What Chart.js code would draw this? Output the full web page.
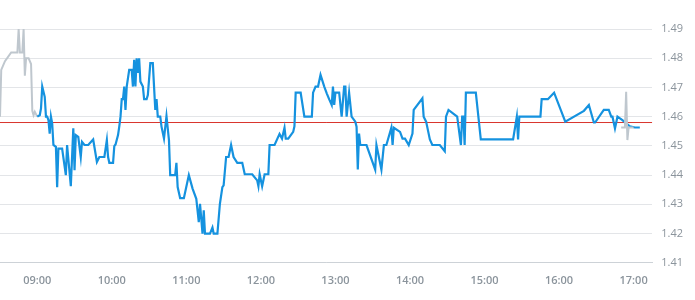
<!DOCTYPE html>
<html>
<head>
<meta charset="utf-8">
<script src="https://cdn.jsdelivr.net/npm/chart.js@4.4.1/dist/chart.umd.min.js"></script>
<style>
    html, body { margin: 0; padding: 0; background: #ffffff; }
    #wrap { width: 695px; height: 300px; position: relative; }
</style>
</head>
<body>
<div id="wrap"><canvas id="priceChart"></canvas></div>
<script>
// pre-market (grey)
const preTimes = ["08:30", "08:31", "08:34", "08:39", "08:44", "08:45", "08:46", "08:48", "08:49", "08:50", "08:51", "08:53", "08:55", "08:56", "08:57", "08:58", "09:00"];
const prePrices = [1.460, 1.476, 1.479, 1.482, 1.482, 1.490, 1.482, 1.482, 1.490, 1.474, 1.480, 1.480, 1.478, 1.462, 1.4605, 1.4617, 1.460];

// trading session (blue)
const sessionTimes = [
    "09:00", "09:02", "09:03", "09:04", "09:06", "09:07", "09:08", "09:09", "09:10", "09:11", "09:12", "09:13", "09:15", "09:16", "09:17", "09:20",
    "09:23", "09:24", "09:27", "09:29", "09:30", "09:31", "09:33", "09:35", "09:36", "09:38", "09:41", "09:45", "09:48", "09:50", "09:54", "09:56",
    "09:57", "09:58", "10:01", "10:02", "10:03", "10:05", "10:06", "10:07", "10:08", "10:09", "10:10", "10:11", "10:12", "10:14", "10:16", "10:17",
    "10:18", "10:19", "10:20", "10:21", "10:22", "10:23", "10:25", "10:26", "10:28", "10:29", "10:31", "10:33", "10:34", "10:35", "10:36", "10:37",
    "10:39", "10:40", "10:42", "10:44", "10:46", "10:47", "10:51", "10:52", "10:53", "10:55", "10:58", "11:02", "11:05", "11:08", "11:09", "11:10",
    "11:11", "11:13", "11:14", "11:15", "11:19", "11:21", "11:22", "11:25", "11:27", "11:29", "11:30", "11:32", "11:34", "11:36", "11:38", "11:41",
    "11:45", "11:47", "11:53", "11:57", "11:58", "11:59", "12:01", "12:03", "12:06", "12:07", "12:11", "12:15", "12:17", "12:19", "12:20", "12:22",
    "12:26", "12:27", "12:28", "12:32", "12:35", "12:41", "12:42", "12:44", "12:46", "12:48", "12:51", "12:53", "12:55", "12:57", "12:58", "12:59",
    "13:00", "13:03", "13:05", "13:07", "13:08", "13:09", "13:11", "13:13", "13:16", "13:17", "13:18", "13:19", "13:20", "13:25", "13:32", "13:33",
    "13:37", "13:39", "13:41", "13:45", "13:46", "13:47", "13:52", "13:54", "13:56", "13:59", "14:02", "14:03", "14:10", "14:11", "14:13", "14:16",
    "14:18", "14:24", "14:28", "14:29", "14:31", "14:38", "14:41", "14:42", "14:43", "14:44", "14:45", "14:53", "14:57", "15:23", "15:26", "15:27",
    "15:28", "15:45", "15:46", "15:51", "15:56", "16:05", "16:20", "16:24", "16:28", "16:29", "16:36", "16:40", "16:42", "16:43", "16:45", "16:47",
    "16:51", "16:54", "16:57", "17:01", "17:05"
];
const sessionPrices = [
    1.4600, 1.4605, 1.4628, 1.4703, 1.4668, 1.4600, 1.4600, 1.4588, 1.4542, 1.4600, 1.4577, 1.4503, 1.4497, 1.4359, 1.4491, 1.4491,
    1.4400, 1.4503, 1.4362, 1.4560, 1.4417, 1.4537, 1.4531, 1.4462, 1.4514, 1.4503, 1.4503, 1.4522, 1.4445, 1.4462, 1.4462, 1.4520,
    1.4462, 1.4442, 1.4442, 1.4499, 1.4505, 1.4537, 1.4566, 1.4600, 1.4660, 1.4660, 1.4703, 1.4623, 1.4703, 1.4760, 1.4760, 1.4703,
    1.4795, 1.4703, 1.4800, 1.4750, 1.4800, 1.4720, 1.4703, 1.4660, 1.4660, 1.4674, 1.4783, 1.4783, 1.4703, 1.4623, 1.4660, 1.4600,
    1.4600, 1.4566, 1.4525, 1.4602, 1.4520, 1.4400, 1.4400, 1.4442, 1.4359, 1.4321, 1.4321, 1.4400, 1.4354, 1.4319, 1.4279, 1.4239,
    1.4302, 1.4200, 1.4280, 1.4200, 1.4200, 1.4221, 1.4200, 1.4200, 1.4302, 1.4359, 1.4365, 1.4462, 1.4462, 1.4503, 1.4462, 1.4442,
    1.4442, 1.4403, 1.4403, 1.4382, 1.4362, 1.4403, 1.4362, 1.4403, 1.4403, 1.4503, 1.4503, 1.4541, 1.4525, 1.4562, 1.4525, 1.4525,
    1.4548, 1.4567, 1.4682, 1.4682, 1.4600, 1.4600, 1.4682, 1.4703, 1.4703, 1.4743, 1.4703, 1.4680, 1.4659, 1.4640, 1.4703, 1.4640,
    1.4682, 1.4682, 1.4600, 1.4703, 1.4703, 1.4600, 1.4682, 1.4600, 1.4583, 1.4566, 1.4419, 1.4542, 1.4503, 1.4503, 1.4419, 1.4503,
    1.4419, 1.4503, 1.4503, 1.4562, 1.4503, 1.4562, 1.4548, 1.4525, 1.4525, 1.4503, 1.4542, 1.4623, 1.4663, 1.4600, 1.4583, 1.4522,
    1.4503, 1.4503, 1.4482, 1.4600, 1.4623, 1.4600, 1.4503, 1.4600, 1.4600, 1.4503, 1.4682, 1.4682, 1.4522, 1.4522, 1.4600, 1.4522,
    1.4600, 1.4600, 1.4660, 1.4660, 1.4682, 1.4583, 1.4620, 1.4640, 1.4580, 1.4580, 1.4623, 1.4623, 1.4600, 1.4600, 1.4560, 1.4600,
    1.4588, 1.4577, 1.4567, 1.4563, 1.4563
];

// closing auction (grey)
const postTimes = ["16:50", "16:53", "16:54", "16:55", "16:56", "17:00"];
const postPrices = [1.4563, 1.4563, 1.4685, 1.4520, 1.4563, 1.4563];

const prevClose = 1.458;

const xStart = "08:30";
const xEnd = "17:15";
const xTickLabels = ["09:00", "10:00", "11:00", "12:00", "13:00", "14:00", "15:00", "16:00", "17:00"];
const yTickValues = [1.41, 1.42, 1.43, 1.44, 1.45, 1.46, 1.47, 1.48, 1.49];

function toMinutes(t) {
    const parts = t.split(":");
    return Number(parts[0]) * 60 + Number(parts[1]);
}

function toLabel(m) {
    const h = Math.floor(m / 60);
    const mm = m % 60;
    return String(h).padStart(2, "0") + ":" + String(mm).padStart(2, "0");
}

function toPoints(times, prices) {
    return times.map((t, i) => ({ x: toMinutes(t), y: prices[i] }));
}

const ctx = document.getElementById("priceChart").getContext("2d");

new Chart(ctx, {
    type: "line",
    data: {
        datasets: [
            {
                data: toPoints(postTimes, postPrices),
                borderColor: "#bfc7ce",
                borderWidth: 2,
                pointRadius: 0,
                order: 0
            },
            {
                data: toPoints(sessionTimes, sessionPrices),
                borderColor: "#1592df",
                borderWidth: 2.2,
                pointRadius: 0,
                order: 1
            },
            {
                data: toPoints(preTimes, prePrices),
                borderColor: "#bfc7ce",
                borderWidth: 2,
                pointRadius: 0,
                order: 2
            },
            {
                data: [
                    { x: toMinutes(xStart), y: prevClose },
                    { x: toMinutes(xEnd), y: prevClose }
                ],
                borderColor: "#d9362e",
                borderWidth: 1,
                pointRadius: 0,
                order: 3
            }
        ]
    },
    options: {
        responsive: true,
        maintainAspectRatio: false,
        animation: false,
        layout: {
            padding: { top: 29, bottom: 2, left: 0, right: 3 }
        },
        plugins: {
            legend: { display: false },
            tooltip: { enabled: false }
        },
        scales: {
            x: {
                type: "linear",
                min: toMinutes(xStart),
                max: toMinutes(xEnd),
                afterBuildTicks: function (scale) {
                    scale.ticks = xTickLabels.map(t => ({ value: toMinutes(t) }));
                },
                ticks: {
                    color: "#8b949c",
                    font: { family: "Open Sans", size: 11, weight: "600" },
                    padding: 11,
                    maxRotation: 0,
                    autoSkip: false,
                    callback: function (value) {
                        return toLabel(value);
                    }
                },
                grid: { display: false, drawTicks: false },
                border: { display: true, color: "#cdd2d7", width: 1 }
            },
            y: {
                position: "right",
                min: 1.41,
                max: 1.49,
                afterBuildTicks: function (scale) {
                    scale.ticks = yTickValues.map(v => ({ value: v }));
                },
                ticks: {
                    color: "#8b949c",
                    font: { family: "Open Sans", size: 11 },
                    padding: 9,
                    callback: function (value) {
                        return value.toFixed(2);
                    }
                },
                grid: {
                    color: "#e3e5e8",
                    drawTicks: false
                },
                border: { display: false }
            }
        }
    }
});
</script>
</body>
</html>
